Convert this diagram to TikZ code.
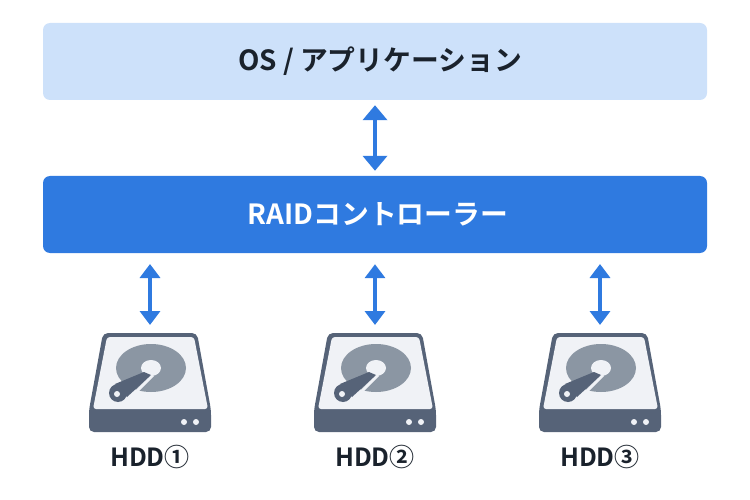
\documentclass[tikz,border=0pt]{standalone}
\usepackage{fontspec}
\setmainfont{Noto Sans CJK JP}[BoldFont={Noto Sans CJK JP Bold}]
\usetikzlibrary{arrows.meta}
\usetikzlibrary{positioning}
\definecolor{layerlight}{HTML}{CDE1FA}
\definecolor{layerblue}{HTML}{2F7AE0}
\definecolor{textdark}{HTML}{1A222C}
\definecolor{hddbody}{HTML}{566378}
\definecolor{hddpanel}{HTML}{F0F2F6}
\definecolor{hdddisc}{HTML}{8B96A3}
\tikzset {
  layer/.style = {
    rectangle,
    rounded corners = 7pt,
    minimum width = 664pt,
    minimum height = 77pt,
    inner sep = 0,
    font = \fontsize{27.8}{30}\selectfont\bfseries
  },
  % upper box
  oslayer/.style = {
    layer,
    fill = layerlight,
    text = textdark
  },
  % controller box
  raidlayer/.style = {
    layer,
    fill = layerblue,
    text = white
  },
  link/.style = {
    draw = layerblue,
    line width = 4pt
  },
  biglink/.style = {
    link,
    {Triangle[width=24pt,length=15pt]}-{Triangle[width=24pt,length=15pt]},
    shorten <= 5pt,
    shorten >= 5pt
  },
  smalllink/.style = {
    link,
    {Triangle[width=20pt,length=14pt]}-{Triangle[width=20pt,length=14pt]},
    shorten <= 11pt,
    shorten >= 8pt
  },
  hddlabel/.style = {
    text = textdark,
    inner sep = 0,
    font = \fontsize{25}{28}\selectfont\bfseries
  }
}
\tikzset {
  % drive icon, origin at the middle of its top edge
  hdd/.pic = {
    \fill[hddbody, rounded corners = 5pt]
      (-47,0) -- (47,0) -- (61,77) -- (61,99) -- (-61,99) -- (-61,77) -- cycle;
    \fill[hddpanel, rounded corners = 3pt]
      (-43,4) -- (44,4) -- (58,76) -- (-57,76) -- cycle;
    \fill[hdddisc] (1,35) ellipse [x radius = 35, y radius = 24];
    \fill[hddpanel] (1,35) ellipse [x radius = 10, y radius = 8];
    % gap beside the arm
    \draw[hddpanel, line width = 3pt] (3,42) -- (-20,65);
    \fill[hddbody] (-6,39) -- (1,42) -- (-23,64) -- (-35,51) -- cycle;
    \fill[hddbody] (-32,60) circle [radius = 9];
    \fill[hddpanel] (-33,61) circle [radius = 3];
    \fill[hddpanel] (34,89) circle [radius = 3];
    \fill[hddpanel] (46,89) circle [radius = 3];
  }
}

\begin{document}
\begin{tikzpicture}[x = 1pt, y = -1pt]
    \useasboundingbox (0,0) rectangle (750,500);

    \node[oslayer] (os) at (375,61.5) {\hspace{10pt}\raisebox{-2pt}{OS / アプリケーション}};
    \node[raidlayer] (raid) at (375,214.5) {\hspace{6pt}\raisebox{-2pt}{RAIDコントローラー}};

    \coordinate (raid-a) at (150,253);
    \coordinate (raid-c) at (600,253);

    \coordinate (hdd-a) at (150,333);
    \coordinate (hdd-b) at (375,333);
    \coordinate (hdd-c) at (600,333);

    \pic at (hdd-a) {hdd};
    \pic at (hdd-b) {hdd};
    \pic at (hdd-c) {hdd};

    \node[hddlabel] (label-a) at (150,457) {HDD①};
    \node[hddlabel] (label-b) at (375,457) {HDD②};
    \node[hddlabel] (label-c) at (600,457) {HDD③};

    \draw[biglink] (os) -- (raid);
    \draw[smalllink] (raid-a) -- (hdd-a);
    \draw[smalllink] (raid) -- (hdd-b);
    \draw[smalllink] (raid-c) -- (hdd-c);
\end{tikzpicture}
\end{document}
